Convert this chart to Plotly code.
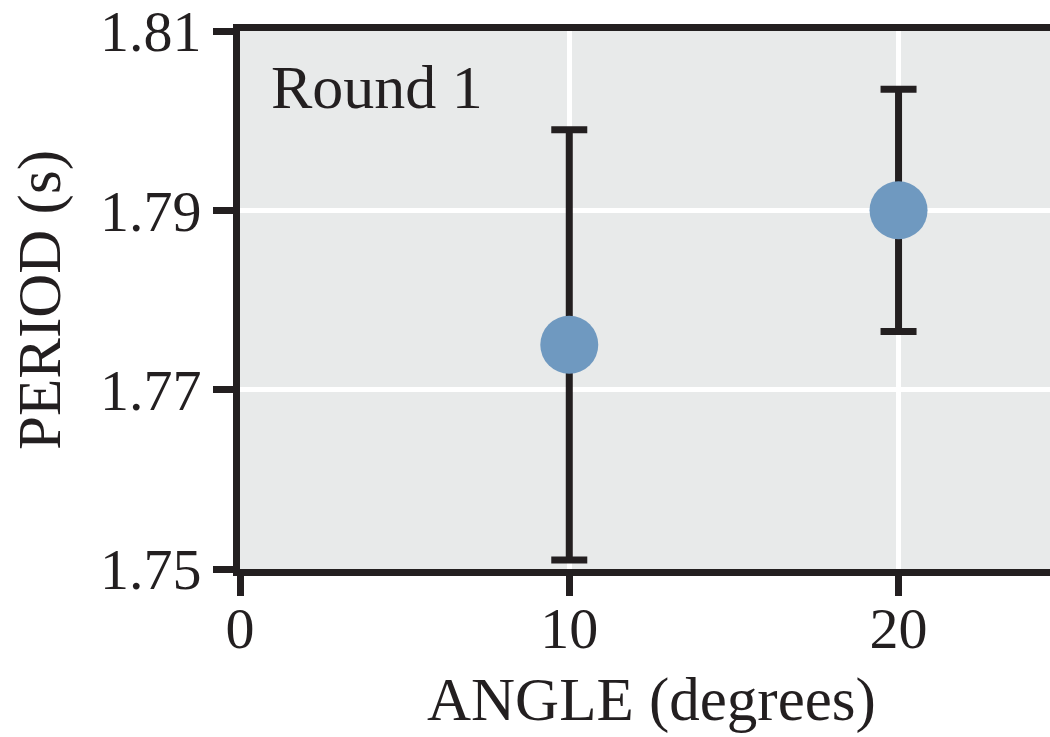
import plotly.graph_objects as go

# Pendulum period measurements, first round
angles = [10, 20]
periods = [1.775, 1.790]
period_err = [0.024, 0.0135]

y_ticks = [1.75, 1.77, 1.79, 1.81]
x_ticks = [0, 10, 20]

ink = "#231f20"
serif = "Liberation Serif"

fig = go.Figure(
    go.Scatter(
        x=angles,
        y=periods,
        mode="markers",
        marker=dict(size=58, color="#6f99c0", line=dict(width=0)),
        error_y=dict(type="data", array=period_err, visible=True,
                     color=ink, thickness=7, width=18),
        cliponaxis=False,
        showlegend=False,
    )
)

fig.update_layout(
    width=1050,
    height=737,
    margin=dict(l=240, r=0, t=31, b=168),
    paper_bgcolor="white",
    plot_bgcolor="#e8eaea",
    font=dict(family=serif, color=ink, size=58),
    annotations=[
        dict(text="Round 1", xref="paper", yref="paper", x=0.036, y=0.895,
             xanchor="left", yanchor="middle", showarrow=False,
             font=dict(size=62, family=serif, color=ink)),
        dict(text="ANGLE (degrees)", xref="paper", yref="paper", x=0.508, y=-0.243,
             xanchor="center", yanchor="middle", showarrow=False,
             font=dict(size=61, family=serif, color=ink)),
    ],
)

fig.update_xaxes(
    range=[0, 24.6],
    tickvals=x_ticks,
    ticktext=[str(v) for v in x_ticks],
    ticks="outside", ticklen=20, tickwidth=7, tickcolor=ink,
    showline=True, linewidth=7, linecolor=ink, mirror=True,
    showgrid=True, gridcolor="white", gridwidth=5,
    zeroline=False,
    tickfont=dict(size=58),
    ticklabelstandoff=-18,
)
fig.update_yaxes(
    range=[1.75, 1.81],
    tickvals=y_ticks,
    ticktext=[f"{v:.2f}" for v in y_ticks],
    ticks="outside", ticklen=20, tickwidth=7, tickcolor=ink,
    showline=True, linewidth=7, linecolor=ink,
    showgrid=True, gridcolor="white", gridwidth=5,
    zeroline=False,
    tickfont=dict(size=58),
    ticklabeloverflow="allow",
    title=dict(text="PERIOD (s)", font=dict(size=61), standoff=22),
)

fig.write_html("out.html")
